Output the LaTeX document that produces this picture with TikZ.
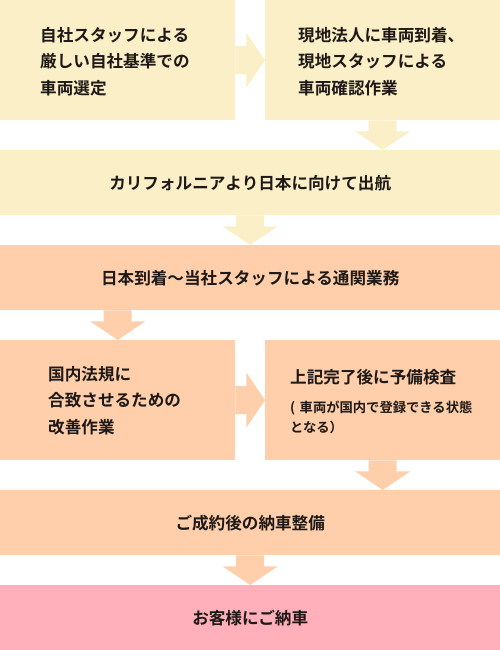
\documentclass[tikz,border=0pt]{standalone}
\usepackage{fontspec}
\setmainfont{Noto Sans CJK JP}[BoldFont={* Bold}]
\usetikzlibrary{calc}
\definecolor{ycol}{RGB}{251,239,200}
\definecolor{pcol}{RGB}{254,207,170}
\definecolor{kcol}{RGB}{255,176,186}
\definecolor{tcol}{RGB}{30,24,22}
\newcommand\flowdown[3]{%
  \fill[#3] let \p1=(#1), \p2=(#2) in
    (\x1-14bp,\y1) -- (\x1+14bp,\y1) -- (\x1+14bp,\y1-11bp) -- (\x1+27.5bp,\y1-11bp)
    -- (\x1,\y2) -- (\x1-27.5bp,\y1-11bp) -- (\x1-14bp,\y1-11bp) -- cycle;}
\newcommand\flowright[3]{%
  \fill[#3] let \p1=(#1), \p2=(#2) in
    (\x1,\y1+14bp) -- (\x1+11bp,\y1+14bp) -- (\x1+11bp,\y1+27.5bp) -- (\x2,\y1)
    -- (\x1+11bp,\y1-27.5bp) -- (\x1+11bp,\y1-14bp) -- (\x1,\y1-14bp) -- cycle;}
\newcommand\smalltxt{\fontsize{13.3bp}{20bp}\selectfont}
\tikzset{
  box/.style={anchor=north west, inner ysep=0pt, text=tcol,
    font=\fontsize{16.6bp}{26.5bp}\selectfont\bfseries},
  half/.style={box, minimum width=235bp, minimum height=120bp, align=left},
  wide/.style={box, minimum width=500bp, minimum height=65bp, align=center},
}
\begin{document}
\begin{tikzpicture}[x=1bp,y=-1bp]
\useasboundingbox (0,0) rectangle (500,650);
\node[half, fill=ycol, inner xsep=40bp, text width=155bp] (b1) at (0,0)
  {\rule{0pt}{16.5bp}自社スタッフによる\\厳しい自社基準での\\車両選定};
\node[half, fill=ycol, inner xsep=33bp, text width=169bp] (b2) at (265,0)
  {\rule{0pt}{16.5bp}現地法人に車両到着、\\現地スタッフによる\\車両確認作業};
\node[wide, fill=ycol] (b3) at (0,150) {\rule{0pt}{15bp}カリフォルニアより日本に向けて出航};
\node[wide, fill=pcol] (b4) at (0,245) {\rule{0pt}{15bp}日本到着〜当社スタッフによる通関業務};
\node[half, fill=pcol, inner xsep=48bp, text width=139bp] (b5) at (0,340)
  {\rule{0pt}{15bp}国内法規に\\合致させるための\\改善作業};
\node[half, fill=pcol, inner xsep=25bp, text width=185bp] (b6) at (265,340)
  {\rule{0pt}{16bp}上記完了後に予備検査\\[2.5bp]%
   {\smalltxt\makebox[9.5bp][l]{(}車両が国内で登録できる状態}\\[-6.5bp]%
   {\smalltxt となる）}};
\node[wide, fill=pcol] (b7) at (0,490) {\rule{0pt}{15bp}ご成約後の納車整備};
\node[wide, fill=kcol] (b8) at (0,585) {\rule{0pt}{16bp}お客様にご納車};
\flowright{b1.east}{b2.west}{ycol}
\flowdown{b2.south}{b3.north}{ycol}
\flowdown{b3.south}{b4.north}{ycol}
\flowdown{b4.south -| b5.north}{b5.north}{pcol}
\flowright{b5.east}{b6.west}{pcol}
\flowdown{b6.south}{b7.north}{pcol}
\flowdown{b7.south}{b8.north}{pcol}
\end{tikzpicture}
\end{document}
